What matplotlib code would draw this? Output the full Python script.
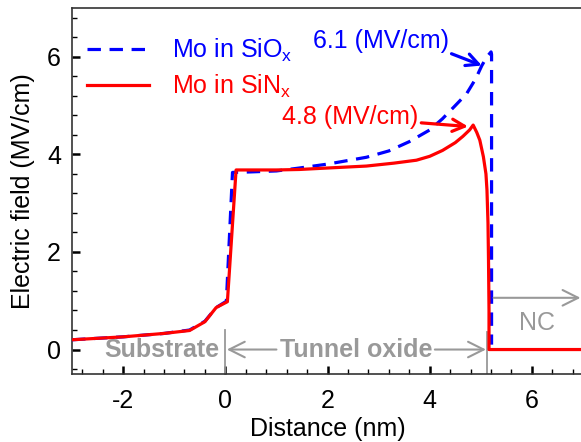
import matplotlib
matplotlib.use("Agg")
import matplotlib.pyplot as plt
from matplotlib.ticker import MultipleLocator

plt.rcParams['font.family'] = ['Liberation Sans', 'DejaVu Sans']
plt.rcParams['mathtext.fontset'] = 'custom'
plt.rcParams['mathtext.rm'] = 'Liberation Sans'
plt.rcParams['axes.unicode_minus'] = False

# SiOx (blue dashed)
x_siox = [-3, -2, -1.2, -0.7, -0.4, -0.18, 0.02, 0.14, 0.5, 1.0, 1.45, 2.0, 2.76, 3.2,
          3.6, 4.0, 4.25, 4.5, 4.72, 4.9, 5.02, 5.12, 5.2, 5.21, 5.21]
y_siox = [0.2, 0.26, 0.33, 0.4, 0.58, 0.86, 0.99, 3.63, 3.64, 3.66, 3.72, 3.8, 3.94, 4.07,
          4.26, 4.5, 4.73, 5.0, 5.24, 5.55, 5.82, 6.0, 6.1, 6.05, 0.1]

# SiNx (red solid)
x_sinx = [-3, -2, -1.2, -0.7, -0.4, -0.18, 0.04, 0.21, 1.0, 1.45, 2.0, 2.76, 3.3, 3.74,
          4.0, 4.25, 4.5, 4.65, 4.78, 4.85, 4.92, 4.98, 5.05, 5.1, 5.12, 5.14, 5.15, 5.16, 5.16, 7.0]
y_sinx = [0.2, 0.26, 0.33, 0.39, 0.57, 0.86, 0.98, 3.68, 3.68, 3.69, 3.72, 3.76, 3.82, 3.88,
          3.96, 4.08, 4.24, 4.37, 4.5, 4.6, 4.45, 4.29, 3.95, 3.6, 3.27, 2.59, 1.84, 0.8, 0.0, 0.0]

labels = ["Mo in SiO$_\\mathregular{x}$", "Mo in SiN$_\\mathregular{x}$"]
peak_labels = ["6.1 (MV/cm)", "4.8 (MV/cm)"]
region_labels = ["Substrate", "Tunnel oxide", "NC"]
oxide_edges = [0.0, 5.12]

gray = '#999999'
fs = 18

fig = plt.figure(figsize=(5.81, 4.42), dpi=100)
ax = fig.add_axes([0.124, 0.154, 0.8795, 0.828])

ax.plot(x_siox, y_siox, color='#0000ff', lw=2.3, linestyle=(0, (4.2, 2.7)), label=labels[0], zorder=3)
ax.plot(x_sinx, y_sinx, color='#ff0000', lw=2.3, label=labels[1], zorder=4)

ax.set_xlim(-3, 7)
ax.set_ylim(-0.5, 7)
ax.xaxis.set_major_locator(MultipleLocator(2))
ax.xaxis.set_minor_locator(MultipleLocator(0.4))
ax.yaxis.set_major_locator(MultipleLocator(2))
ax.yaxis.set_minor_locator(MultipleLocator(0.4))
ax.tick_params(which='major', direction='in', length=6, width=1.8, labelsize=fs)
ax.tick_params(axis='x', which='major', pad=11)
ax.tick_params(axis='y', which='major', pad=8)
ax.tick_params(which='minor', direction='in', length=3.5, width=1.0)
for s in ax.spines.values():
    s.set_linewidth(1.2)
    s.set_color('#333333')

ax.set_xlabel("Distance (nm)", fontsize=fs)
ax.set_ylabel("Electric field (MV/cm)", fontsize=fs)
ax.xaxis.set_label_coords(0.5, -0.119)
ax.yaxis.set_label_coords(-0.072, 0.5)

leg = ax.legend(loc='upper left', bbox_to_anchor=(0.004, 0.955), frameon=False, fontsize=fs,
                handlelength=2.5, handletextpad=0.9, labelspacing=0.35, borderpad=0)
for t, c in zip(leg.get_texts(), ['#0000ff', '#ff0000']):
    t.set_color(c)

# Peak annotations
ax.annotate(peak_labels[0], xy=(5.02, 5.82), xytext=(1.71, 6.33), color='#0000ff', fontsize=fs,
            va='center', ha='left',
            arrowprops=dict(arrowstyle='->', color='#0000ff', lw=2.3, mutation_scale=22,
                            shrinkA=0, shrinkB=0, relpos=(1.0, 0.0)))
ax.annotate(peak_labels[1], xy=(4.75, 4.57), xytext=(3.78, 4.76), color='#ff0000', fontsize=fs,
            va='center', ha='right',
            arrowprops=dict(arrowstyle='->', color='#ff0000', lw=2.3, mutation_scale=22,
                            shrinkA=0, shrinkB=0))

# Region markers
for xe, ytop in zip(oxide_edges, [0.41, 0.35]):
    ax.plot([xe, xe], [ytop, -0.5], color=gray, lw=1.3, zorder=2)

ax.text(-1.25, 0.0, region_labels[0], color=gray, fontsize=fs, fontweight='bold',
        ha='center', va='center')
ax.text(2.56, 0.0, region_labels[1], color=gray, fontsize=fs, fontweight='bold',
        ha='center', va='center')
arr = dict(arrowstyle='->', color=gray, lw=1.5, mutation_scale=28, shrinkA=0, shrinkB=0)
ax.annotate('', xy=(0.03, 0.0), xytext=(1.0, 0.0), arrowprops=arr)
ax.annotate('', xy=(5.1, 0.0), xytext=(4.1, 0.0), arrowprops=arr)
ax.annotate('', xy=(6.95, 1.06), xytext=(5.25, 1.06), arrowprops=arr)
ax.text(6.1, 0.55, region_labels[2], color=gray, fontsize=fs, ha='center', va='center')

fig.savefig("out.png", dpi=100)
